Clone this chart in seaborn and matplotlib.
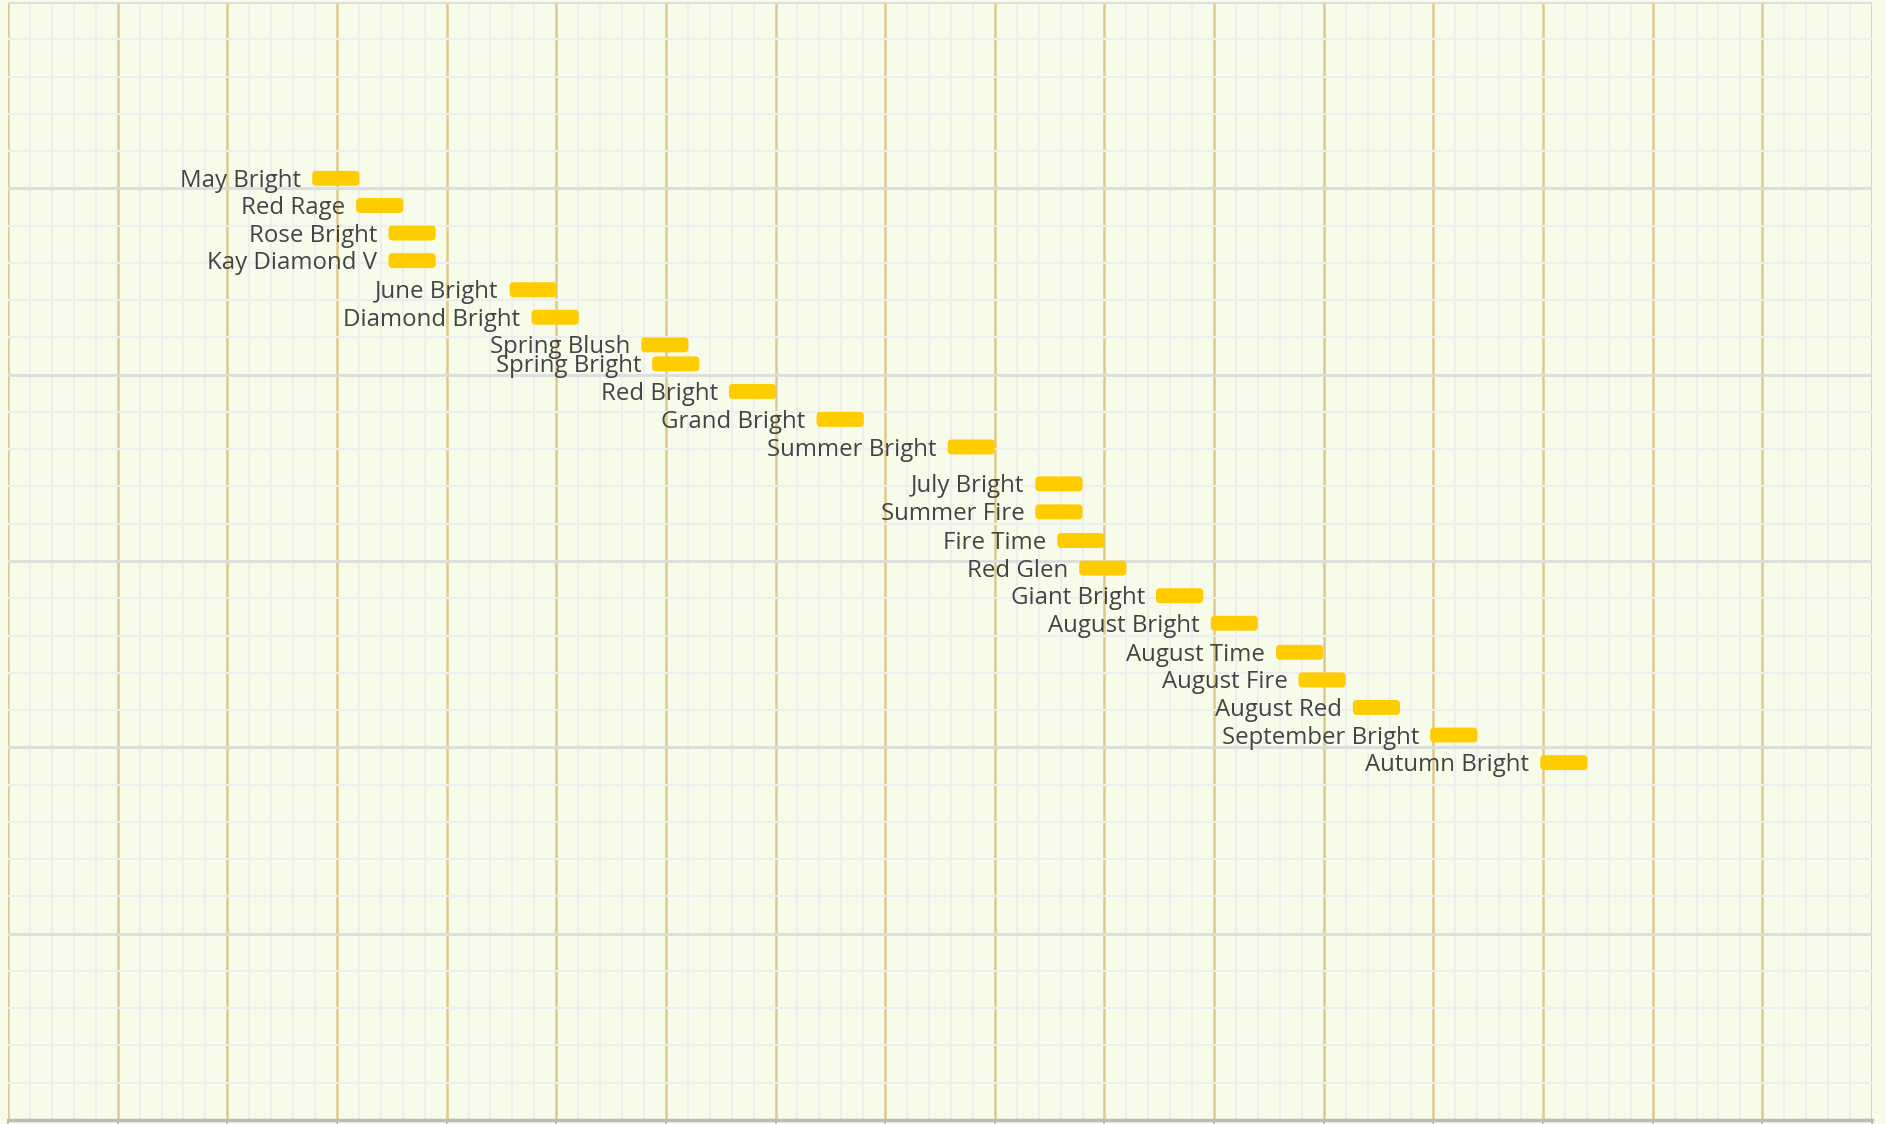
import pandas as pd
import seaborn as sns
import matplotlib.pyplot as plt
from matplotlib.patches import FancyBboxPatch
from matplotlib.ticker import MultipleLocator

# bloom window per variety: start day (x) and row position (y, grid units)
varieties = ["May Bright", "Red Rage", "Rose Bright", "Kay Diamond V", "June Bright",
             "Diamond Bright", "Spring Blush", "Spring Bright", "Red Bright", "Grand Bright",
             "Summer Bright", "July Bright", "Summer Fire", "Fire Time", "Red Glen",
             "Giant Bright", "August Bright", "August Time", "August Fire", "August Red",
             "September Bright", "Autumn Bright"]
bloom_start = [27.75, 31.75, 34.7, 34.7, 45.75, 47.75, 57.75, 58.75, 65.75, 73.75,
               85.7, 93.7, 93.7, 95.7, 97.7, 104.7, 109.7, 115.65, 117.7, 122.65,
               129.7, 139.75]
row_pos = [4.73, 5.46, 6.20, 6.94, 7.72, 8.46, 9.20, 9.71, 10.45, 11.20, 11.94,
           12.93, 13.68, 14.45, 15.19, 15.93, 16.67, 17.45, 18.19, 18.93, 19.67, 20.41]
bloom_len = 4.3

df = pd.DataFrame({"variety": varieties, "start": bloom_start, "row": row_pos})

bg = "#f7fbea"
sns.set_theme(style="whitegrid", rc={"axes.facecolor": bg, "figure.facecolor": bg})
plt.rcParams["font.family"] = ["Open Sans", "DejaVu Sans"]

W, H = 1886, 1124
fig = plt.figure(figsize=(W / 100, H / 100), dpi=100)
ax = fig.add_axes([8 / W, 4 / H, 1864 / W, 1118 / H])

ax.set_xlim(0, 170)
ax.set_ylim(30, 0)

bars = ax.barh(df["row"], bloom_len, left=df["start"], height=0.4, color="#ffcc00")
# swap plain bars for rounded ones (radius ~4px)
px_x = 1864 / 170
px_y = 1118 / 30
r = 4 / px_x
for b in list(bars):
    x0, y0 = b.get_x(), b.get_y()
    w, h = b.get_width(), b.get_height()
    b.remove()
    ax.add_patch(FancyBboxPatch((x0, y0), w, h,
                                boxstyle=f"round,pad=0,rounding_size={r}",
                                mutation_aspect=px_x / px_y,
                                fc="#ffcc00", ec="none", zorder=3))

for _, row in df.iterrows():
    ax.annotate(row["variety"], xy=(row["start"], row["row"]), xytext=(-8, -6.2),
                textcoords="offset points", ha="right", va="baseline",
                fontsize=17.3, color="#444444", zorder=4)

ax.xaxis.set_major_locator(MultipleLocator(10))
ax.xaxis.set_minor_locator(MultipleLocator(2))
ax.yaxis.set_major_locator(MultipleLocator(5))
ax.yaxis.set_minor_locator(MultipleLocator(1))
ax.grid(False)
ax.grid(which="minor", color="#eeeeee", lw=1.5)
ax.grid(which="major", axis="y", color="#dddddd", lw=2)
ax.grid(which="major", axis="x", color="#dfc98a", lw=1.8)
ax.set_axisbelow(True)

ax.set_xticklabels([])
ax.set_yticklabels([])
ax.tick_params(axis="x", which="major", bottom=True, length=3.5, width=1.5, color="#bbbbbb")
ax.tick_params(axis="x", which="minor", bottom=False)
ax.tick_params(axis="y", which="both", left=False)
for s in ["top", "left", "right"]:
    ax.spines[s].set_visible(False)
ax.spines["bottom"].set_color("#bbbbbb")
ax.spines["bottom"].set_linewidth(2.5)
ax.set_xlabel("")
ax.set_ylabel("")

plt.savefig("out.png", dpi=100, facecolor=bg)
